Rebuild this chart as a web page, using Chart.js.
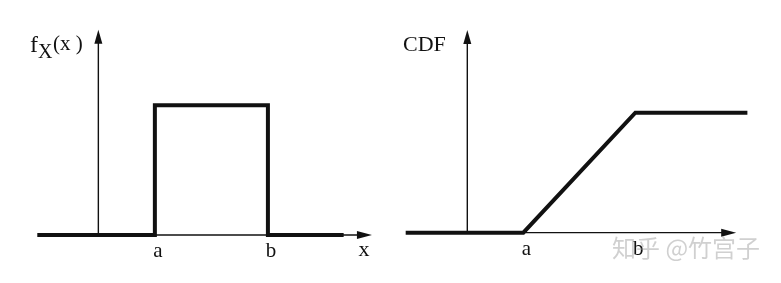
<!DOCTYPE html>
<html>
<head>
<meta charset="utf-8">
<script src="https://cdn.jsdelivr.net/npm/chart.js@4"></script>
<style>
  html, body { margin: 0; padding: 0; background: #fff; }
  #wrap { position: relative; width: 781px; height: 283px; overflow: hidden; }
  canvas { position: absolute; top: 0; }
</style>
</head>
<body>
<div id="wrap">
  <canvas id="pdfChart" width="390" height="283" style="left:0"></canvas>
  <canvas id="cdfChart" width="391" height="283" style="left:390px"></canvas>
</div>
<script>
// uniform distribution on [a, b] with a = 1, b = 2
const tickValues = [1, 2];
const tickLabels = ['a', 'b'];

const pdfX = [-0.04, 1, 1, 2, 2, 2.67];
const pdfY = [0, 0, 1, 1, 0, 0];

const cdfX = [-0.05, 1, 2, 3];
const cdfY = [0, 0, 1, 1];

const ink = '#111';

function toPoints(xs, ys) {
    return xs.map((x, i) => ({ x: x, y: ys[i] }));
}

function arrow(ctx, x, y, dir) {
    ctx.beginPath();
    if (dir === 'up') {
        ctx.moveTo(x, y);
        ctx.lineTo(x - 4, y + 14);
        ctx.lineTo(x + 4, y + 14);
    } else {
        ctx.moveTo(x, y);
        ctx.lineTo(x - 15, y - 4);
        ctx.lineTo(x - 15, y + 4);
    }
    ctx.closePath();
    ctx.fill();
}

// axes with arrows, drawn under the line
function axesPlugin(opts) {
    return {
        id: 'axes',
        beforeDatasetsDraw(chart) {
            const { ctx, scales: { x, y } } = chart;
            const x0 = x.getPixelForValue(opts.yAxisAt);
            const y0 = y.getPixelForValue(0);
            ctx.save();
            ctx.strokeStyle = ink;
            ctx.fillStyle = ink;
            ctx.lineWidth = 1.4;
            ctx.beginPath();
            ctx.moveTo(x0, y0);
            ctx.lineTo(x0, y.getPixelForValue(opts.yTop) + 6);
            ctx.stroke();
            arrow(ctx, x0, y.getPixelForValue(opts.yTop), 'up');
            const xEnd = x.getPixelForValue(opts.xEnd);
            ctx.beginPath();
            ctx.moveTo(x0, y0);
            ctx.lineTo(xEnd - 6, y0);
            ctx.stroke();
            arrow(ctx, xEnd, y0, 'right');
            ctx.restore();
        },
        afterDatasetsDraw(chart) {
            const { ctx, scales: { x, y } } = chart;
            const y0 = y.getPixelForValue(0);
            ctx.save();
            ctx.fillStyle = ink;
            ctx.textAlign = 'center';
            ctx.textBaseline = 'alphabetic';
            ctx.font = '21px "Liberation Serif", "DejaVu Serif", serif';
            tickValues.forEach((v, i) => {
                ctx.fillText(tickLabels[i], x.getPixelForValue(v) + 3, y0 + 22);
            });
            if (opts.xLabel) {
                ctx.font = '22px "Liberation Serif", serif';
                ctx.fillText(opts.xLabel, x.getPixelForValue(opts.xEnd) - 8, y0 + 21);
            }
            opts.title(ctx, x, y);
            ctx.restore();
        }
    };
}

function baseOptions(xr, yr) {
    return {
        responsive: false,
        animation: false,
        layout: { padding: 0 },
        plugins: { legend: { display: false }, tooltip: { enabled: false } },
        scales: {
            x: { type: 'linear', display: false, min: xr[0], max: xr[1] },
            y: { type: 'linear', display: false, min: yr[0], max: yr[1] }
        }
    };
}

function lineSet(points) {
    return {
        data: points,
        showLine: true,
        borderColor: ink,
        borderWidth: 4,
        pointRadius: 0,
        borderJoinStyle: 'miter',
        borderCapStyle: 'butt',
        tension: 0
    };
}

new Chart(document.getElementById('pdfChart'), {
    type: 'scatter',
    data: { datasets: [lineSet(toPoints(pdfX, pdfY))] },
    options: baseOptions([-0.37, 3.08], [-0.37, 1.81]),
    plugins: [axesPlugin({
        yAxisAt: 0.5, yTop: 1.58, xEnd: 2.92, xLabel: 'x',
        title(ctx) {
            ctx.textAlign = 'left';
            ctx.font = '24px "Liberation Serif", serif';
            ctx.fillText('f', 30, 52);
            ctx.font = '20px "Liberation Serif", serif';
            ctx.fillText('X', 38, 58);
            ctx.font = '21px "Liberation Serif", serif';
            ctx.fillText('(x )', 53, 50);
        }
    })]
});

new Chart(document.getElementById('cdfChart'), {
    type: 'scatter',
    data: { datasets: [lineSet(toPoints(cdfX, cdfY))] },
    options: baseOptions([-0.19, 3.3], [-0.42, 1.94]),
    plugins: [axesPlugin({
        yAxisAt: 0.5, yTop: 1.69, xEnd: 2.9,
        title(ctx) {
            ctx.textAlign = 'left';
            ctx.font = '22px "Liberation Serif", serif';
            ctx.fillText('CDF', 13, 51);
            // watermark
            ctx.fillStyle = 'rgba(150,150,150,0.45)';
            ctx.font = '24px "Noto Sans CJK SC", sans-serif';
            ctx.fillText('知乎 @竹宫子', 222, 257);
        }
    })]
});
</script>
</body>
</html>
